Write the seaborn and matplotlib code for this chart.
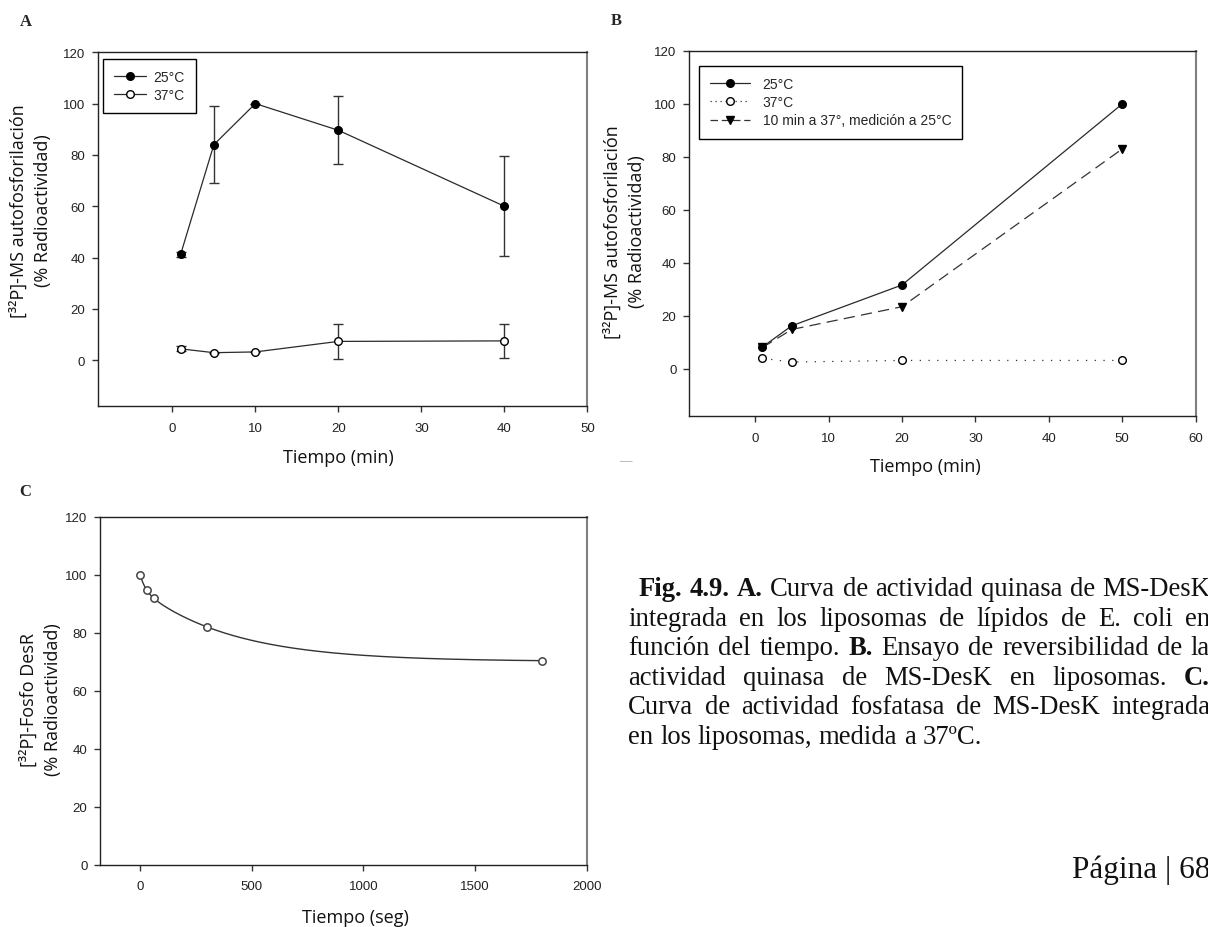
import numpy as np
import pandas as pd
import matplotlib
matplotlib.use("Agg")
import matplotlib.pyplot as plt
import seaborn as sns
from matplotlib.lines import Line2D

# ---------------- data ----------------
# Panel A: kinase activity vs time
a_time = [1, 5, 10, 20, 40]
a_25 = [41.3, 84.0, 100.0, 89.6, 60.0]
a_25_err = [1.0, 15.0, 0.0, 13.3, 19.5]
a_37 = [4.4, 2.9, 3.2, 7.3, 7.5]
a_37_err = [1.0, 0.0, 0.0, 6.7, 6.5]

# Panel B: reversibility assay
b_time = [1, 5, 20, 50]
b_25 = [8.2, 16.2, 31.6, 100.0]
b_37 = [3.9, 2.5, 3.1, 3.1]
b_rev = [8.0, 14.8, 23.4, 83.0]

# Panel C: phosphatase activity
c_time = [0, 30, 60, 300, 1800]
c_val = [100.0, 94.6, 92.0, 82.0, 70.4]

legend_a = ["25°C", "37°C"]
legend_b = ["25°C", "37°C", "10 min a 37°, medición a 25°C"]
ylabel_ab = "[³²P]-MS autofosforilación\n(% Radioactividad)"
ylabel_c = "[³²P]-Fosfo DesR\n(% Radioactividad)"
xlabel_min = "Tiempo (min)"
xlabel_seg = "Tiempo (seg)"

caption_lines = [
    [("Fig.", True), ("4.9.", True), ("A.", True), ("Curva", False), ("de", False),
     ("actividad", False), ("quinasa", False), ("de", False), ("MS-DesK", False)],
    [("integrada", False), ("en", False), ("los", False), ("liposomas", False), ("de", False),
     ("lípidos", False), ("de", False), ("E.", False), ("coli", False), ("en", False)],
    [("función", False), ("del", False), ("tiempo.", False), ("B.", True), ("Ensayo", False),
     ("de", False), ("reversibilidad", False), ("de", False), ("la", False)],
    [("actividad", False), ("quinasa", False), ("de", False), ("MS-DesK", False), ("en", False),
     ("liposomas.", False), ("C.", True)],
    [("Curva", False), ("de", False), ("actividad", False), ("fosfatasa", False), ("de", False),
     ("MS-DesK", False), ("integrada", False)],
    [("en", False), ("los", False), ("liposomas,", False), ("medida", False), ("a", False),
     ("37ºC.", False)],
]
page_text = "Página | 68"

# ---------------- style ----------------
sns.set_style("white")
plt.rcParams["font.family"] = ["Liberation Sans", "DejaVu Sans"]
plt.rcParams["axes.linewidth"] = 1.0

W, H = 1208, 928
fig = plt.figure(figsize=(W / 100, H / 100), dpi=100)
fig.patch.set_facecolor("white")


def px_axes(l, t, r, b):
    return fig.add_axes([l / W, 1 - b / H, (r - l) / W, (b - t) / H])


def style_axes(ax, xlim, ylim, xticks, yticks):
    ax.set_xlim(*xlim)
    ax.set_ylim(*ylim)
    ax.set_xticks(xticks)
    ax.set_yticks(yticks)
    ax.tick_params(axis="both", direction="out", length=4, width=1.0, color="#333333",
                   labelsize=9.5, labelcolor="#222222", bottom=True, left=True,
                   top=False, right=False)
    ax.tick_params(axis="y", pad=5)
    ax.tick_params(axis="x", pad=7)
    for s in ["left", "bottom", "top"]:
        ax.spines[s].set_color("#222222")
        ax.spines[s].set_linewidth(1.0)
    ax.spines["right"].set_color("#808080")
    ax.spines["right"].set_linewidth(1.5)
    ax.set_facecolor("white")


def set_labels(ax, xlabel, ylabel, xpos, ypos):
    ax.set_xlabel(xlabel, fontsize=13, family="Open Sans", color="#111111")
    ax.set_ylabel(ylabel, fontsize=13, family="Open Sans", color="#111111",
                  linespacing=1.45, ha="center")
    ax.xaxis.label.set_va("center")
    ax.yaxis.label.set_va("center")
    ax.xaxis.set_label_coords(xpos[0] / W, 1 - xpos[1] / H, transform=fig.transFigure)
    ax.yaxis.set_label_coords(ypos[0] / W, 1 - ypos[1] / H, transform=fig.transFigure)


line_col = "#2a2a2a"

# ---------------- Panel A ----------------
axA = px_axes(97.7, 53.3, 587.3, 407.3)
dfA = pd.DataFrame({"t": a_time, "v25": a_25, "e25": a_25_err, "v37": a_37, "e37": a_37_err})
axA.errorbar(dfA["t"], dfA["v25"], yerr=dfA["e25"], fmt="none", ecolor="#333333",
             elinewidth=1.0, capsize=3.5, capthick=1.0, zorder=2)
axA.errorbar(dfA["t"], dfA["v37"], yerr=dfA["e37"], fmt="none", ecolor="#333333",
             elinewidth=1.0, capsize=3.5, capthick=1.0, zorder=2)
sns.lineplot(data=dfA, x="t", y="v25", ax=axA, estimator=None, sort=False, color=line_col,
             linewidth=0.9, marker="o", markersize=5.5, markerfacecolor="black",
             markeredgecolor="black", markeredgewidth=1.0, zorder=3)
sns.lineplot(data=dfA, x="t", y="v37", ax=axA, estimator=None, sort=False, color=line_col,
             linewidth=0.9, marker="o", markersize=5.5, markerfacecolor="white",
             markeredgecolor="black", markeredgewidth=1.0, zorder=3)
style_axes(axA, (-9, 50), (-18, 120), range(0, 51, 10), range(0, 121, 20))
set_labels(axA, xlabel_min, ylabel_ab, (338, 458), (31, 211))
hA = [Line2D([], [], color=line_col, lw=0.9, marker="o", ms=5.5, mfc="black", mec="black"),
      Line2D([], [], color=line_col, lw=0.9, marker="o", ms=5.5, mfc="white", mec="black")]
legA = axA.legend(hA, legend_a, loc="upper left",
                  bbox_to_anchor=((103 - 97.7) / 489.6, (407.3 - 60) / 354.0),
                  borderaxespad=0, frameon=True, fancybox=False, edgecolor="black",
                  framealpha=1, fontsize=10, handlelength=2.3, handletextpad=0.55,
                  labelspacing=0.3, borderpad=0.8)
legA.get_frame().set_linewidth(1.0)

# ---------------- Panel B ----------------
axB = px_axes(689, 52, 1195.7, 417.3)
dfB = pd.DataFrame({"t": b_time, "v25": b_25, "v37": b_37, "rev": b_rev})
sns.lineplot(data=dfB, x="t", y="v25", ax=axB, estimator=None, sort=False, color=line_col,
             linewidth=0.9, marker="o", markersize=5.5, markerfacecolor="black",
             markeredgecolor="black", markeredgewidth=1.0, zorder=3)
sns.lineplot(data=dfB, x="t", y="v37", ax=axB, estimator=None, sort=False, color="#333333",
             linewidth=0.9, linestyle=(0, (1, 6)), marker="o", markersize=5.5,
             markerfacecolor="white", markeredgecolor="black", markeredgewidth=1.0, zorder=3)
sns.lineplot(data=dfB, x="t", y="rev", ax=axB, estimator=None, sort=False, color="#333333",
             linewidth=0.9, linestyle=(0, (9, 5)), marker="v", markersize=6,
             markerfacecolor="black", markeredgecolor="black", markeredgewidth=1.0, zorder=3)
style_axes(axB, (-9, 60), (-18, 120), range(0, 61, 10), range(0, 121, 20))
set_labels(axB, xlabel_min, ylabel_ab, (925, 467), (624.5, 232))
hB = [Line2D([], [], color=line_col, lw=0.9, marker="o", ms=5.5, mfc="black", mec="black"),
      Line2D([], [], color="#333333", lw=0.9, ls=(0, (1, 3)), marker="o", ms=5.5,
             mfc="white", mec="black"),
      Line2D([], [], color="#333333", lw=0.9, ls=(0, (6, 3)), marker="v", ms=6,
             mfc="black", mec="black")]
legB = axB.legend(hB, legend_b, loc="upper left",
                  bbox_to_anchor=((698.8 - 689) / 506.7, (417.3 - 67) / 365.3),
                  borderaxespad=0, frameon=True, fancybox=False, edgecolor="black",
                  framealpha=1, fontsize=10, handlelength=2.9, handletextpad=0.9,
                  labelspacing=0.3, borderpad=0.8)
legB.get_frame().set_linewidth(1.0)

# ---------------- Panel C ----------------
axC = px_axes(100, 517.7, 586.7, 866)
cx = np.array(c_time, float)
cy = np.array(c_val, float)
best = None
for k1 in np.logspace(-2.5, -0.5, 60):
    for k2 in np.logspace(-3.5, -2.0, 60):
        if k2 >= k1:
            continue
        M = np.column_stack([np.ones_like(cx), np.exp(-k1 * cx), np.exp(-k2 * cx)])
        coef, *_ = np.linalg.lstsq(M, cy, rcond=None)
        if np.any(coef[1:] < 0):
            continue
        sse = float(np.sum((M @ coef - cy) ** 2))
        if best is None or sse < best[0]:
            best = (sse, k1, k2, coef)
_, k1, k2, coef = best
xs = np.linspace(cx.min(), cx.max(), 400)
ys = coef[0] + coef[1] * np.exp(-k1 * xs) + coef[2] * np.exp(-k2 * xs)
dfFit = pd.DataFrame({"t": xs, "v": ys})
dfC = pd.DataFrame({"t": c_time, "v": c_val})
sns.lineplot(data=dfFit, x="t", y="v", ax=axC, estimator=None, sort=False, color="#333333",
             linewidth=1.0, zorder=2)
sns.scatterplot(data=dfC, x="t", y="v", ax=axC, marker="o", s=28, facecolor="white",
                edgecolor="#444444", linewidth=1.1, zorder=3)
style_axes(axC, (-180, 2000), (0, 120), range(0, 2001, 500), range(0, 121, 20))
set_labels(axC, xlabel_seg, ylabel_c, (355, 918), (41, 700))

# ---------------- panel letters & misc ----------------
for lab, (x, y) in zip(["A", "B", "C"], [(25.5, 22.5), (616, 21), (25, 492)]):
    fig.text(x / W, 1 - y / H, lab, fontsize=12, weight="bold", family="Liberation Serif",
             ha="center", va="center")
fig.text(626 / W, 1 - 462 / H, "—", fontsize=9, color="#b0b0b0", ha="center", va="center")

# ---------------- caption (justified) ----------------
renderer = fig.canvas.get_renderer()
cap_size = 19.2
fam = "Liberation Serif"


def text_width(s, bold=False):
    t = fig.text(0, 0, s, fontsize=cap_size, family=fam, weight="bold" if bold else "normal")
    w = t.get_window_extent(renderer).width
    t.remove()
    return w


space_w = text_width("a a") - text_width("aa")
x_right = 1210
for i, words in enumerate(caption_lines):
    x0 = 638.3 if i == 0 else 628.3
    yb = 596 + 29.6 * i
    objs = [fig.text(0, 0, w, fontsize=cap_size, family=fam, color="#111111",
                     weight="bold" if b else "normal", ha="left", va="baseline")
            for w, b in words]
    widths = [o.get_window_extent(renderer).width for o in objs]
    if i < len(caption_lines) - 1:
        gap = (x_right - x0 - sum(widths)) / (len(objs) - 1)
    else:
        gap = space_w
    x = x0
    for o, w in zip(objs, widths):
        o.set_position((x / W, 1 - yb / H))
        x += w + gap

fig.text(1071.7 / W, 1 - 878 / H, page_text, fontsize=22.5, family=fam, color="#111111",
         ha="left", va="baseline")

fig.savefig("out.png", dpi=100, facecolor="white")
